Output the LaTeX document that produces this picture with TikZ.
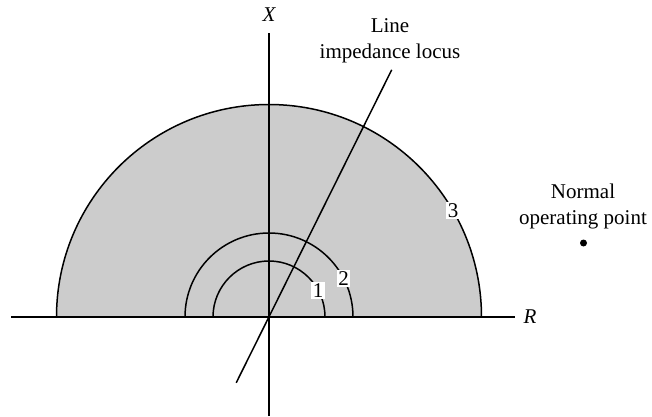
\documentclass[tikz,border=0pt]{standalone}
\usepackage{fontspec}
\setmainfont{Liberation Serif}
\usetikzlibrary{calc}
\definecolor{zonegray}{RGB}{204,204,204}
\begin{document}
\begin{tikzpicture}[x=1pt,y=1pt,
  ln/.style={line width=1.5pt,black},
  lbl/.style={font=\fontsize{21}{26}\selectfont},
  numlbl/.style={font=\fontsize{21}{24}\selectfont,fill=white,inner sep=1.5pt}]
\useasboundingbox (0,0) rectangle (652,416);
\coordinate (O) at (269,99);
% zone 3 (filled)
\fill[zonegray] ($(O)+(212.5,0)$) arc[start angle=0,end angle=180,radius=212.5] -- cycle;
\draw[ln] ($(O)+(212.5,0)$) arc[start angle=0,end angle=180,radius=212.5];
\draw[ln] ($(O)+(84,0)$) arc[start angle=0,end angle=180,radius=84];
\draw[ln] ($(O)+(56,0)$) arc[start angle=0,end angle=180,radius=56];
% axes
\coordinate (Rl) at (11,99);
\coordinate (Rr) at (515,99);
\coordinate (Xt) at (269,383);
\coordinate (Xb) at (269,0);
\draw[ln] (Rl) -- (Rr);
\draw[ln] (Xb) -- (Xt);
\node[font=\fontsize{21}{24}\selectfont\itshape] (Xlab) at (269,401) {X};
\node[font=\fontsize{21}{24}\selectfont\itshape] (Rlab) at (530,99) {R};
% line impedance locus
\coordinate (lo) at ($(O)+(243.5:73.5)$);
\coordinate (hi) at ($(O)+(63.6:276)$);
\draw[ln] (lo) -- (hi);
\node[lbl,align=center] (locus) at (390,375) {Line\\impedance locus};
% zone labels
\node[numlbl] (n1) at ($(O)+(28.7:56)$) {1};
\node[numlbl] (n2) at ($(O)+(27.5:84)$) {2};
\node[numlbl] (n3) at ($(O)+(30:212.5)$) {3};
% normal operating point
\node[lbl,align=center] (nop) at (583,210) {Normal\\operating point};
\fill (583.5,173) circle[radius=3.5];
\end{tikzpicture}
\end{document}
